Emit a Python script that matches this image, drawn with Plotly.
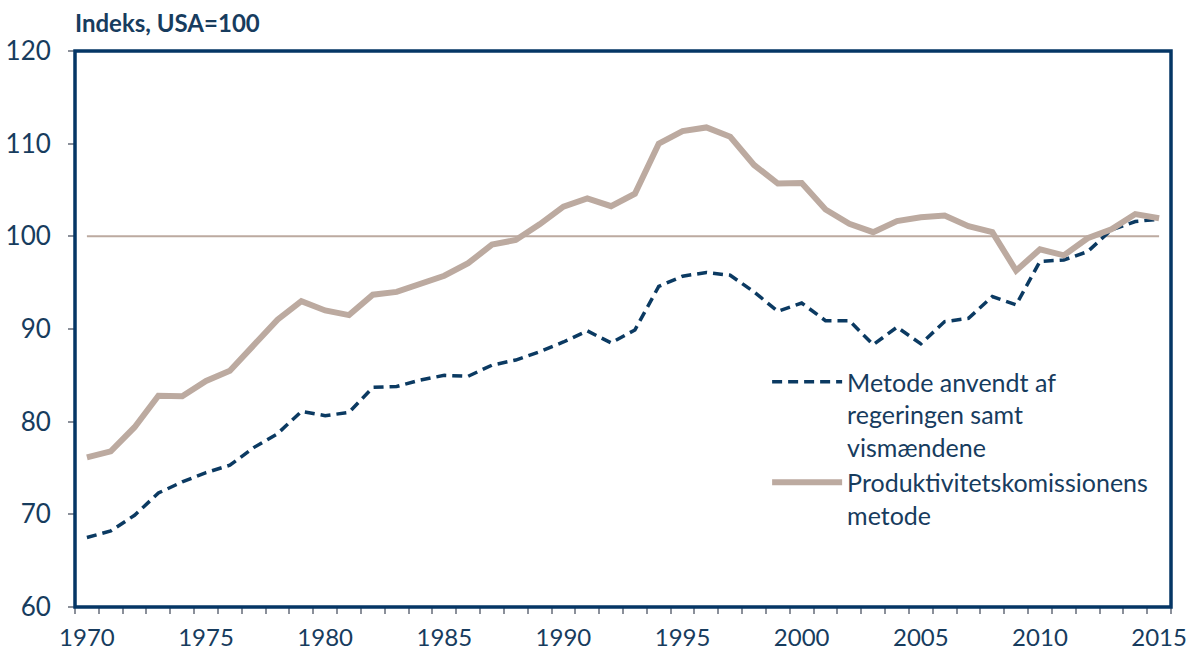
import plotly.graph_objects as go

years = list(range(1970, 2016))

regering = [67.5, 68.2, 69.9, 72.3, 73.5, 74.5, 75.3, 77.2, 78.7, 81.1,
            80.65, 81.0, 83.7, 83.8, 84.5, 85.0, 84.9, 86.1, 86.65, 87.55,
            88.6, 89.8, 88.5, 89.9, 94.6, 95.7, 96.1, 95.8, 94.0, 91.9,
            92.8, 90.9, 90.9, 88.3, 90.2, 88.4, 90.8, 91.15, 93.5, 92.6,
            97.3, 97.45, 98.35, 100.7, 101.6, 101.85]

produktivitet = [76.15, 76.8, 79.4, 82.8, 82.75, 84.4, 85.5, 88.3, 91.0, 93.0,
                 92.0, 91.5, 93.7, 94.0, 94.9, 95.75, 97.1, 99.1, 99.6, 101.3,
                 103.2, 104.1, 103.25, 104.6, 110.0, 111.35, 111.75, 110.75, 107.7, 105.7,
                 105.75, 102.9, 101.35, 100.45, 101.65, 102.05, 102.25, 101.1, 100.45, 96.3,
                 98.6, 97.95, 99.8, 100.75, 102.4, 101.95]

usa = [100] * len(years)

series_names = ["Metode anvendt af<br>regeringen samt<br>vismændene",
                "Produktivitetskomissionens<br>metode"]

x_labels = list(range(1970, 2016, 5))
y_ticks = list(range(60, 121, 10))

BLUE = "#0b3a62"
TAN = "#bcaaa0"
TEXT = "#173c5e"
GRAY = "#8b909a"
FONT = "Lato, 'Open Sans', sans-serif"

fig = go.Figure()
fig.add_trace(go.Scatter(x=years, y=usa, mode="lines", showlegend=False,
                         line=dict(color=TAN, width=2)))
fig.add_trace(go.Scatter(x=years, y=regering, mode="lines", name=series_names[0],
                         line=dict(color=BLUE, width=3.5, dash="10px,6px")))
fig.add_trace(go.Scatter(x=years, y=produktivitet, mode="lines", name=series_names[1],
                         line=dict(color=TAN, width=6)))

fig.update_layout(
    width=1189, height=652,
    margin=dict(l=75, r=18, t=51, b=45, autoexpand=False),
    paper_bgcolor="white", plot_bgcolor="white",
    font=dict(family=FONT, size=20, color=TEXT),
    legend=dict(x=0.6315, y=0.446, xanchor="left", yanchor="top",
                bgcolor="rgba(0,0,0,0)", valign="top",
                font=dict(family=FONT, size=25, color=TEXT),
                tracegroupgap=0, itemwidth=70),
    xaxis=dict(range=[1969.5, 2015.5], tickvals=x_labels, ticks="",
               showgrid=False, zeroline=False, showline=True, automargin=False,
               linecolor=GRAY, linewidth=1, ticklabelstandoff=9,
               ticklabeloverflow="allow",
               tickfont=dict(family=FONT, size=24, color=TEXT),
               minor=dict(tick0=1969.5, dtick=1, ticks="outside", ticklen=6,
                          tickcolor=GRAY, tickwidth=1.5, showgrid=False)),
    yaxis=dict(range=[60, 120], tickvals=y_ticks, ticks="outside", ticklen=6,
               tickcolor=GRAY, tickwidth=1.5, showgrid=False, zeroline=False,
               showline=True, linecolor=GRAY, linewidth=1, ticklabelstandoff=12,
               automargin=False, ticklabeloverflow="allow",
               tickfont=dict(family=FONT, size=26, color=TEXT)),
    shapes=[dict(type="rect", xref="paper", yref="paper", x0=0, x1=1, y0=0, y1=1,
                 line=dict(color="#053665", width=3.5), layer="above")],
    annotations=[dict(text="<b>Indeks, USA=100</b>", xref="paper", yref="paper",
                      x=-0.002, y=1.052, xanchor="left", yanchor="middle", showarrow=False,
                      font=dict(family=FONT, size=24, color=TEXT))],
)

fig.write_html("out.html", config={"displayModeBar": False},
               post_script="document.body.style.margin='0';document.body.style.overflow='hidden';")
